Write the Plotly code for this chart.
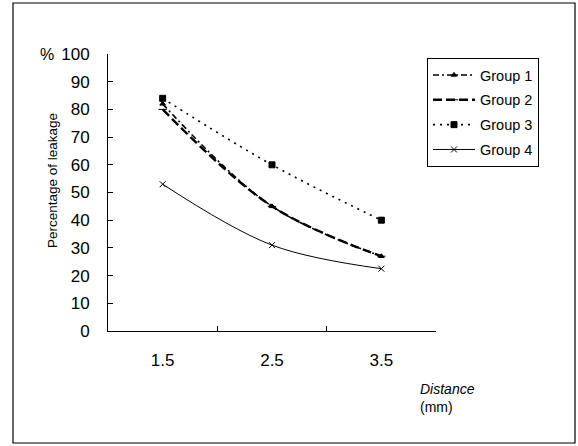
import plotly.graph_objects as go

categories = ["1.5", "2.5", "3.5"]
group1 = [82, 45, 27]
group2 = [80, 45, 27]
group3 = [84, 60, 40]
group4 = [53, 31, 22.5]
series_names = ["Group 1", "Group 2", "Group 3", "Group 4"]
y_ticks = [0, 10, 20, 30, 40, 50, 60, 70, 80, 90, 100]

W, H = 578, 446
L, R, T, B = 108, 436, 54, 331

def px_x(p):
    return (p - L) / (R - L)

def px_y(p):
    return (B - p) / (B - T)

fig = go.Figure()
styles = [
    dict(dash="6px,3px,2px,3px", width=1.6, symbol="triangle-up", size=5),
    dict(dash="9px,4px", width=2.4, symbol="line-ew-open", size=6),
    dict(dash="2px,5px", width=1.6, symbol="square", size=6),
    dict(dash="solid", width=1, symbol="x-thin-open", size=6),
]
for i, (name, vals) in enumerate(zip(series_names, [group1, group2, group3, group4])):
    s = styles[i]
    fig.add_trace(go.Scatter(
        x=categories, y=vals, name=name, mode="lines+markers",
        legendgroup=name,
        line=dict(color="black", width=s["width"], dash=s["dash"], shape="spline", smoothing=1),
        marker=dict(color="black", symbol=s["symbol"], size=s["size"],
                    line=dict(color="black", width=1)),
    ))

fig.update_layout(
    width=W, height=H,
    margin=dict(l=L, r=W - R, t=T, b=H - B),
    paper_bgcolor="white", plot_bgcolor="white",
    font=dict(family="Liberation Sans, Arial, sans-serif", color="black"),
    showlegend=True,
    legend=dict(
        x=px_x(427), y=px_y(58), xanchor="left", yanchor="top",
        bordercolor="black", borderwidth=1, bgcolor="white",
        font=dict(size=14.5), tracegroupgap=3, traceorder="grouped", itemwidth=42,
    ),
    xaxis=dict(
        type="category", range=[-0.5, 2.5], showline=True, linecolor="black", linewidth=1,
        ticks="inside", ticklen=5, tickcolor="black", tickson="boundaries",
        showgrid=False, zeroline=False, tickfont=dict(size=17), ticklabelstandoff=14,
    ),
    yaxis=dict(
        range=[0, 100], tickvals=y_ticks, showline=True, linecolor="black", linewidth=1,
        ticks="inside", ticklen=5, tickcolor="black", showgrid=False, zeroline=False,
        tickfont=dict(size=17), ticklabelstandoff=14,
    ),
    shapes=[dict(type="rect", xref="paper", yref="paper",
                 x0=px_x(13), x1=px_x(575), y0=px_y(443), y1=px_y(3),
                 line=dict(color="black", width=1.2))],
    annotations=[
        dict(text="Percentage of leakage", textangle=-90, xref="paper", yref="paper",
             x=px_x(52), y=px_y(180), xanchor="center", yanchor="middle",
             showarrow=False, font=dict(size=13.5)),
        dict(text="%", xref="paper", yref="paper", x=px_x(47), y=px_y(54),
             xanchor="center", yanchor="middle", showarrow=False, font=dict(size=16)),
        dict(text="<i>Distance</i><br>(mm)", xref="paper", yref="paper", x=px_x(418), y=px_y(379),
             xanchor="left", yanchor="top", align="left", showarrow=False,
             font=dict(size=14)),
    ],
)

fig.write_html("out.html", config={"displayModeBar": False},
               post_script="document.body.style.margin='0';document.body.style.overflow='hidden';")
